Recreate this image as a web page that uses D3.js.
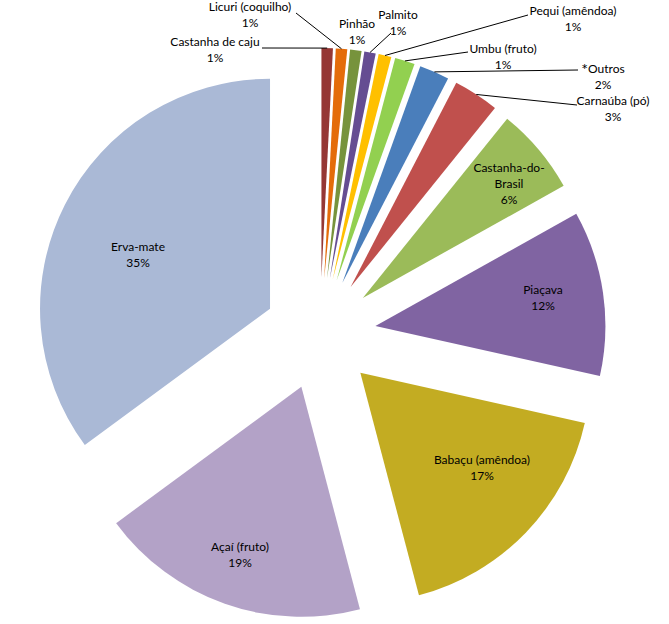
<!DOCTYPE html>
<html>
<head>
<meta charset="utf-8">
<script src="https://cdn.jsdelivr.net/npm/d3@7/dist/d3.min.js"></script>
<style>
  html, body { margin: 0; padding: 0; background: #ffffff; }
  svg { display: block; }
  text { font-family: Lato, "Open Sans", sans-serif; font-size: 12px; fill: #000; }
</style>
</head>
<body>
<svg id="chart" width="669" height="624"></svg>
<script>
// ---- data ----
const categories = ["Castanha de caju", "Licuri (coquilho)", "Pinhão", "Palmito", "Pequi (amêndoa)",
  "Umbu (fruto)", "*Outros", "Carnaúba (pó)", "Castanha-do-Brasil", "Piaçava",
  "Babaçu (amêndoa)", "Açaí (fruto)", "Erva-mate"];
const values = [0.8, 0.8, 0.8, 0.8, 0.9, 1.4, 2.1, 3.2, 6.1, 11.6, 17.4, 19.0, 35.1];
const colors = ["#953735", "#E46C0A", "#77933C", "#654D92", "#FFC000", "#92D050", "#4A7EBB",
  "#C0504D", "#9BBB59", "#8064A2", "#C3AC22", "#B3A2C7", "#AAB9D6"];

// ---- layout (label placement, like Excel's manual label positions) ----
const labelLines = [
  ["Castanha de caju"], ["Licuri (coquilho)"], ["Pinhão"], ["Palmito"], ["Pequi (amêndoa)"],
  ["Umbu (fruto)"], ["*Outros"], ["Carnaúba (pó)"], ["Castanha-do-", "Brasil"], ["Piaçava"],
  ["Babaçu (amêndoa)"], ["Açaí (fruto)"], ["Erva-mate"]
];
const labelPos = [
  [215, 42], [250, 7], [357, 24], [398, 15], [573, 11],
  [503, 49], [603, 69], [613, 101], [509, 168], [543, 290],
  [482, 460], [240, 547], [138, 247]
];
const leaderStart = [
  [262, 48], [296, 13], null, [391, 33], [528, 15],
  [468, 52], [578, 70], [577, 105], null, null, null, null, null
];

const cx = 320, cy = 334, radius = 230, explode = 56, lineH = 16;

const svg = d3.select("#chart");
const g = svg.append("g").attr("transform", `translate(${cx},${cy})`);

const pie = d3.pie().sort(null).value(d => d.value).startAngle(0).endAngle(2 * Math.PI);
const arc = d3.arc().innerRadius(0).outerRadius(radius);

const data = categories.map((c, i) => ({ name: c, value: values[i], color: colors[i], i }));
const arcs = pie(data);

function offset(a) {
  const m = (a.startAngle + a.endAngle) / 2;
  return [Math.sin(m) * explode, -Math.cos(m) * explode];
}

g.selectAll("path.slice")
  .data(arcs)
  .enter().append("path")
  .attr("class", "slice")
  .attr("d", arc)
  .attr("fill", d => d.data.color)
  .attr("transform", d => { const o = offset(d); return `translate(${o[0]},${o[1]})`; });

// leader lines
arcs.forEach((a, i) => {
  const s = leaderStart[i];
  if (!s) return;
  const m = (a.startAngle + a.endAngle) / 2;
  const o = offset(a);
  const ex = cx + o[0] + Math.sin(m) * radius;
  const ey = cy + o[1] - Math.cos(m) * radius;
  svg.append("line")
    .attr("x1", s[0]).attr("y1", s[1])
    .attr("x2", ex).attr("y2", ey)
    .attr("stroke", "#000").attr("stroke-width", 1);
});

// labels
arcs.forEach((a, i) => {
  const lines = labelLines[i].concat([Math.round(a.data.value) + "%"]);
  const p = labelPos[i];
  const t = svg.append("text").attr("text-anchor", "middle");
  lines.forEach((ln, k) => {
    const ts = t.append("tspan").attr("x", p[0]).attr("y", p[1] + k * lineH + 4);
    if (ln.startsWith("*")) {
      ts.append("tspan").attr("font-size", "16px").attr("dy", "2").text("*");
      ts.append("tspan").attr("dy", "-2").text(ln.slice(1));
    } else {
      ts.text(ln);
    }
  });
});
</script>
</body>
</html>
